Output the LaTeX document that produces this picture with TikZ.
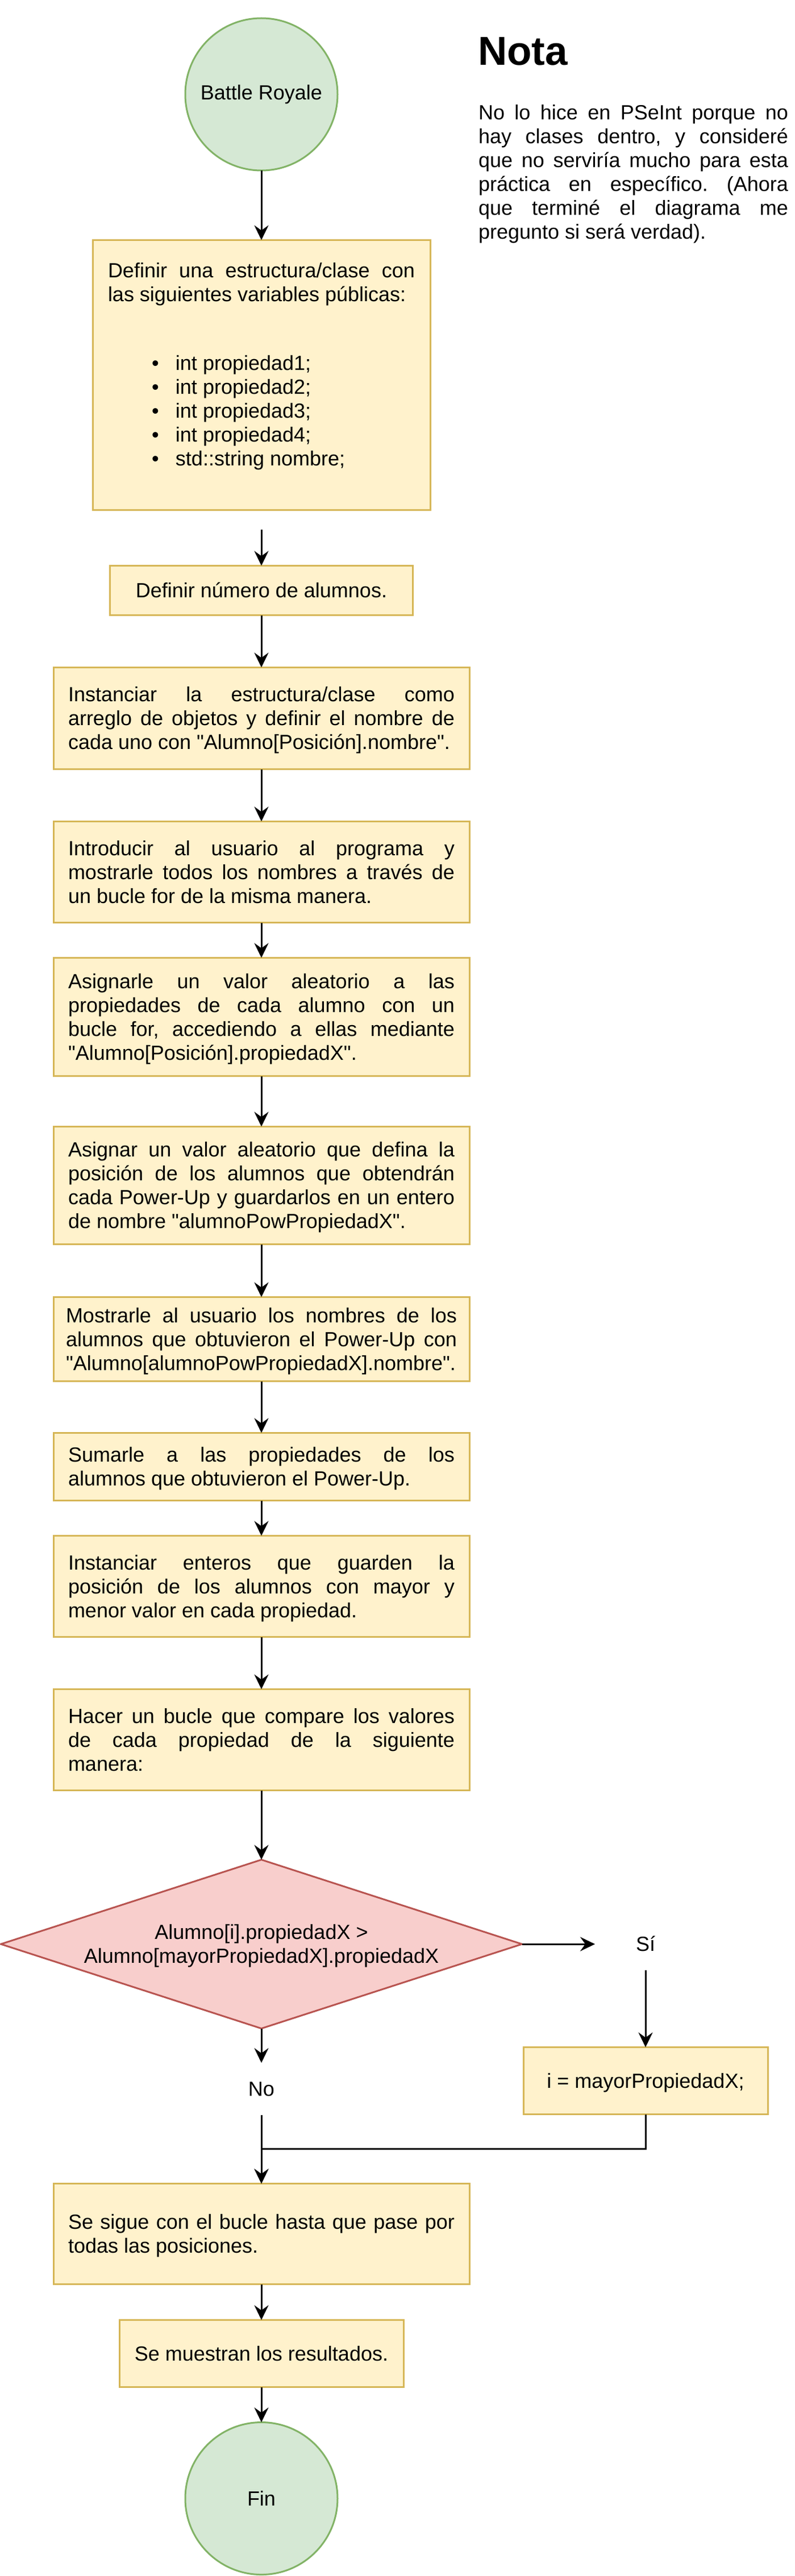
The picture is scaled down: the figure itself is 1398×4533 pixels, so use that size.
\documentclass[tikz,border=0pt]{standalone}
\usepackage{fontspec}
\newfontfamily\lib{Liberation Sans}
\usetikzlibrary{arrows.meta,shapes.geometric}
\definecolor{gfill}{HTML}{D5E8D4}
\definecolor{gline}{HTML}{82B366}
\definecolor{yfill}{HTML}{FFF2CC}
\definecolor{yline}{HTML}{D6B656}
\definecolor{rfill}{HTML}{F8CECC}
\definecolor{rline}{HTML}{B85450}
\setlength{\parindent}{0pt}
\newcommand\ns{\spaceskip=0pt\xspaceskip=0pt\frenchspacing}
\newcommand\hs{\ns\rule[-8.5pt]{0pt}{42pt}}
\newcommand\jl[2][680pt]{\leavevmode\hbox to #1{\hs#2}}
\newcommand\bul{\makebox[119pt][l]{\hspace{77pt}\textbullet}}
\newcommand\fs{\lib\fontsize{36pt}{42pt}\selectfont}
\begin{document}
\begin{tikzpicture}[x=1pt,y=-1pt,
  every node/.style={inner sep=0pt, outer sep=0pt},
  base/.style={font=\fs},
  box/.style={base, rectangle, draw=yline, fill=yfill, line width=3pt, align=left},
  term/.style={base, circle, draw=gline, fill=gfill, line width=3pt, minimum size=268pt},
  dec/.style={base, diamond, draw=rline, fill=rfill, line width=3pt, minimum width=917pt, minimum height=297pt, aspect=3.07, align=center},
  lbl/.style={base, minimum width=178pt, minimum height=92pt},
  arr/.style={-{Stealth[length=26pt,width=25pt,inset=9pt]}, line width=3pt},
]
\useasboundingbox (0,0) rectangle (1398,4533);

% Note
\node[anchor=base west, font=\lib\fontsize{71pt}{80pt}\selectfont\bfseries] (nt) at (841,115) {Nota};
\node[base, anchor=north west, text width=545pt, align=left] (nb) at (842,177) {%
\jl[545pt]{No lo hice en PSeInt porque no}\\
\jl[545pt]{hay clases dentro, y consideré}\\
\jl[545pt]{que no serviría mucho para esta}\\
\jl[545pt]{práctica en específico. (Ahora}\\
\jl[545pt]{que terminé el diagrama me}\\
\hs pregunto si será verdad).};

% Flow
\node[term] (start) at (460,166) {Battle Royale};
\node[box, minimum width=594pt, minimum height=475pt, text width=540pt] (b1) at (460,660) {%
\jl[540pt]{Definir una estructura/clase con}\\
\hs las siguientes variables públicas:\\[79pt]
\hs\bul int propiedad1;\\
\hs\bul int propiedad2;\\
\hs\bul int propiedad3;\\
\hs\bul int propiedad4;\\
\hs\bul std::string nombre;\rule[-45.5pt]{0pt}{1pt}};
\coordinate (c1) at (460,932);
\node[box, minimum width=533pt, minimum height=87pt] (b2) at (460,1039) {\hs Definir número de alumnos.};
\node[box, minimum width=732pt, minimum height=179pt, text width=680pt] (b3) at (460,1264) {%
\jl{Instanciar la estructura/clase como}\\
\jl{arreglo de objetos y definir el nombre de}\\
\hs cada uno con "Alumno[Posición].nombre".};
\node[box, minimum width=732pt, minimum height=178pt, text width=680pt] (b4) at (460,1534.5) {%
\jl{Introducir al usuario al programa y}\\
\jl{mostrarle todos los nombres a través de}\\
\hs un bucle for de la misma manera.};
\node[box, minimum width=732pt, minimum height=208pt, text width=680pt] (b5) at (460,1789.5) {%
\jl{Asignarle un valor aleatorio a las}\\
\jl{propiedades de cada alumno con un}\\
\jl{bucle for, accediendo a ellas mediante}\\
\hs "Alumno[Posición].propiedadX".};
\node[box, minimum width=732pt, minimum height=207pt, text width=680pt] (b6) at (460,2086) {%
\jl{Asignar un valor aleatorio que defina la}\\
\jl{posición de los alumnos que obtendrán}\\
\jl{cada Power-Up y guardarlos en un entero}\\
\hs de nombre "alumnoPowPropiedadX".};
\node[box, minimum width=732pt, minimum height=148pt, text width=688pt] (b7) at (460,2356.5) {%
\jl[688pt]{Mostrarle al usuario los nombres de los}\\
\jl[688pt]{alumnos que obtuvieron el Power-Up con}\\
\hs "Alumno[alumnoPowPropiedadX].nombre".};
\node[box, minimum width=732pt, minimum height=119pt, text width=680pt] (b8) at (460,2581) {%
\jl{Sumarle a las propiedades de los}\\
\hs alumnos que obtuvieron el Power-Up.};
\node[box, minimum width=732pt, minimum height=178pt, text width=680pt] (b9) at (460,2791.5) {%
\jl{Instanciar enteros que guarden la}\\
\jl{posición de los alumnos con mayor y}\\
\hs menor valor en cada propiedad.};
\node[box, minimum width=732pt, minimum height=178pt, text width=680pt] (b10) at (460,3061.5) {%
\jl{Hacer un bucle que compare los valores}\\
\jl{de cada propiedad de la siguiente}\\
\hs manera:};
\node[dec] (dia) at (460,3421) {\hs Alumno[i].propiedadX >\\ \hs Alumno[mayorPropiedadX].propiedadX};
\node[lbl] (si) at (1136,3421) {\hs Sí};
\node[lbl] (no) at (460,3676) {\hs No};
\node[box, minimum width=430pt, minimum height=118pt] (b11) at (1136,3661.5) {\hs i = mayorPropiedadX;};
\coordinate (m) at (460,3781);
\node[box, minimum width=732pt, minimum height=177pt, text width=680pt] (b12) at (460,3931) {%
\jl{Se sigue con el bucle hasta que pase por}\\
\hs todas las posiciones.};
\node[box, minimum width=500pt, minimum height=118pt] (b13) at (460,4141.5) {\hs Se muestran los resultados.};
\node[term] (fin) at (460,4396.5) {Fin};

% Connectors
\draw[arr] (start) -- (b1);
\draw[arr] (c1) -- (b2);
\draw[arr] (b2) -- (b3);
\draw[arr] (b3) -- (b4);
\draw[arr] (b4) -- (b5);
\draw[arr] (b5) -- (b6);
\draw[arr] (b6) -- (b7);
\draw[arr] (b7) -- (b8);
\draw[arr] (b8) -- (b9);
\draw[arr] (b9) -- (b10);
\draw[arr] (b10) -- (dia);
\draw[arr] (dia) -- (si);
\draw[arr] (si) -- (b11);
\draw[arr] (dia) -- (no);
\draw[arr] (no) -- (b12);
\draw[arr] (b11.south) |- (m) -- (b12.north);
\draw[arr] (b12) -- (b13);
\draw[arr] (b13) -- (fin);
\end{tikzpicture}
\end{document}
